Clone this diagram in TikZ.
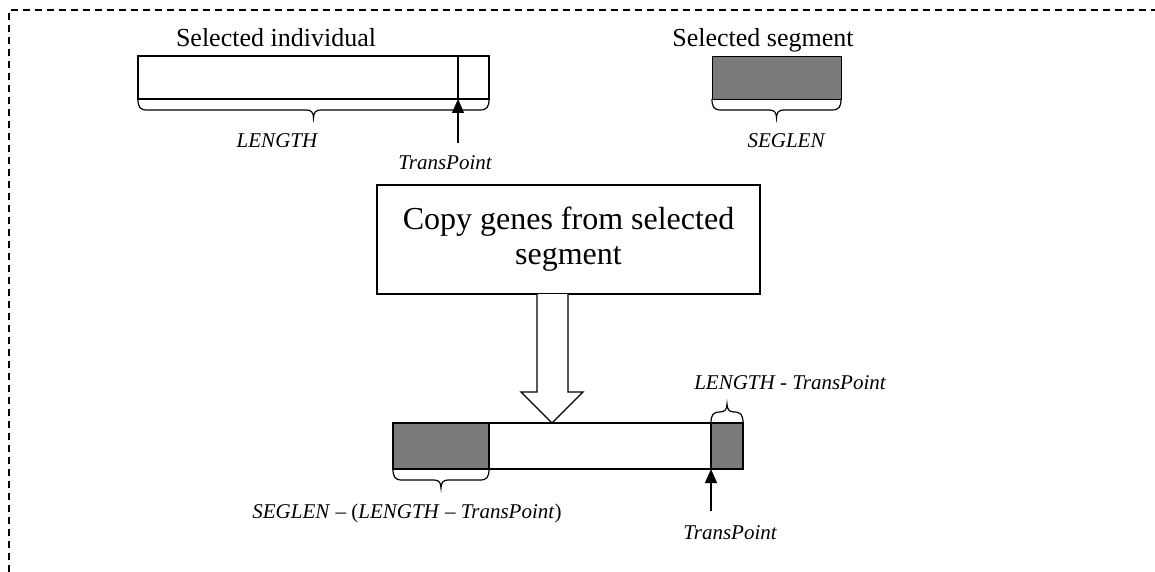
\documentclass[tikz,border=0pt]{standalone}
\usepackage{fontspec}
\setmainfont{Liberation Serif}
\usetikzlibrary{arrows.meta}

% curly brace hanging from (#1,#3) to (#2,#3); #4 = +1 opens downward, -1 upward
\newcommand\curlyspan[4]{%
  \draw[brace] (#1,#3)
    .. controls (#1,{#3+#4*8}) and ({#1+2},{#3+#4*11}) .. ({#1+9},{#3+#4*11})
    -- ({(#1+#2)/2-7},{#3+#4*11})
    .. controls ({(#1+#2)/2-2},{#3+#4*11}) and ({(#1+#2)/2},{#3+#4*14}) .. ({(#1+#2)/2},{#3+#4*19})
    .. controls ({(#1+#2)/2},{#3+#4*14}) and ({(#1+#2)/2+2},{#3+#4*11}) .. ({(#1+#2)/2+7},{#3+#4*11})
    -- ({#2-9},{#3+#4*11})
    .. controls ({#2-2},{#3+#4*11}) and (#2,{#3+#4*8}) .. (#2,#3);}

\begin{document}
\begin{tikzpicture}[x=1pt,y=-1pt,line width=1.3pt,
  lbl/.style={inner sep=0pt,font=\fontsize{26}{30}\selectfont},
  var/.style={inner sep=0pt,font=\fontsize{21}{25}\selectfont\itshape},
  chrom/.style={draw,line width=1.3pt,inner sep=0pt,outer sep=0pt},
  gene/.style={draw,fill=black!52,line width=1.3pt},
  brace/.style={line width=1.2pt},
  ptr/.style={-{Triangle[length=14pt,width=12pt]},line width=1.3pt},
  frame/.style={line width=1.5pt,dash pattern=on 7pt off 5pt}]
\useasboundingbox (0,0) rectangle (1155,572);

% dashed frame (open to the right and bottom)
\draw[frame] (9,572) -- (9,10) -- (1155,10);

% ---- selected individual ----
\node[lbl,anchor=base] (indivlbl) at (276,47) {Selected individual};
\node[chrom,anchor=north west,minimum width=351pt,minimum height=43pt] (indiv) at (138,56) {};
\coordinate (cuttop) at (458,56);
\coordinate (cutbot) at (458,99);
\draw (cuttop) -- (cutbot);
\curlyspan{138}{489}{99}{1}
\node[var,anchor=base] (lenlbl) at (277,148) {LENGTH};
\node[var,anchor=base] (tplbl) at (445,170) {TransPoint};
\coordinate (tpfoot) at (458,143);
\draw[ptr] (tpfoot) -- (cutbot);

% ---- selected segment ----
\node[lbl,anchor=base] (seglbl) at (763,47) {Selected segment};
\node[gene,anchor=north west,minimum width=129pt,minimum height=43pt,inner sep=0pt] (seg) at (712,56) {};
\curlyspan{712}{841}{99}{1}
\node[var,anchor=base] (seglenlbl) at (786,148) {SEGLEN};

% ---- copy step ----
\node[draw,line width=1.3pt,minimum width=383pt,minimum height=109pt,align=center,
      font=\fontsize{32}{35}\selectfont] (copy) at (568.5,239.5)
      {Copy genes from selected\\segment};

% hollow block arrow
\draw[line width=1.3pt,fill=white,line join=miter]
  (537,294) -- (537,392) -- (521,392) -- (552,423) -- (583,392) -- (568,392) -- (568,294);

% ---- resulting individual ----
\fill[black!52] (393,423) rectangle (489,469);
\fill[black!52] (711,423) rectangle (743,469);
\node[chrom,anchor=north west,minimum width=350pt,minimum height=46pt] (child) at (393,423) {};
\draw (489,423) -- (489,469);
\draw (711,423) -- (711,469);
\curlyspan{393}{489}{469}{1}
\curlyspan{711}{743}{423}{-1}

\node[var,anchor=base] (taillbl) at (790,389) {LENGTH - TransPoint};
\node[anchor=base,inner sep=0pt,font=\fontsize{21}{25}\selectfont] (headlbl) at (407,518)
  {\textit{SEGLEN} – (\textit{LENGTH} – \textit{TransPoint})};
\coordinate (cut2bot) at (711,469);
\coordinate (tp2foot) at (711,511);
\draw[ptr] (tp2foot) -- (cut2bot);
\node[var,anchor=base] (tp2lbl) at (730,539) {TransPoint};
\end{tikzpicture}
\end{document}
